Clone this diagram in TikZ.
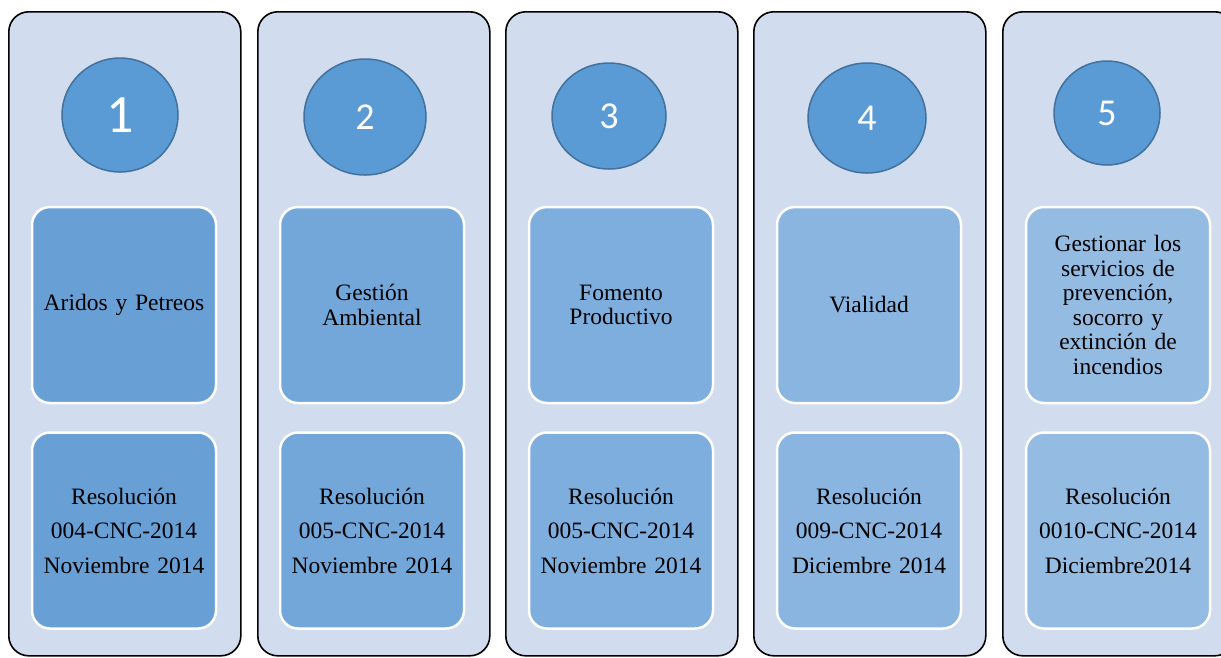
\documentclass[tikz,border=0pt]{standalone}
\usepackage{fontspec}
\setmainfont{Liberation Serif}
\newfontfamily\numfont{Carlito}
\usetikzlibrary{shapes.geometric}
\definecolor{outerfill}{RGB}{209,220,238}
\definecolor{circfill}{RGB}{91,155,213}
\definecolor{circline}{RGB}{65,113,156}
\definecolor{cardA}{RGB}{104,160,214}
\definecolor{cardB}{RGB}{115,167,218}
\definecolor{cardC}{RGB}{126,174,221}
\definecolor{cardD}{RGB}{137,181,224}
\definecolor{cardE}{RGB}{148,187,226}
\begin{document}
\begin{tikzpicture}[x=1pt,y=-1pt,
  colbox/.style={draw=black, line width=1.6pt, fill=outerfill, rounded corners=20pt,
    minimum width=232pt, minimum height=644pt, anchor=north west, inner sep=0pt},
  numcirc/.style={ellipse, draw=circline, line width=1.5pt, fill=circfill, text=white,
    inner sep=0pt, font=\numfont\fontsize{38}{38}\selectfont},
  card/.style={draw=white, line width=2.5pt, rounded corners=18pt,
    minimum width=184pt, minimum height=196pt, align=center, text width=180pt,
    inner sep=0pt, font=\fontsize{23.5}{24.5}\selectfont},
  rescard/.style={card, font=\fontsize{23.5}{34.5}\selectfont}
]
\useasboundingbox (0,0) rectangle (1221,657);
% columns
\node[colbox] (c1) at (8,11) {};
\node[colbox] (c2) at (257,11) {};
\node[colbox] (c3) at (505,11) {};
\node[colbox] (c4) at (753,11) {};
\node[colbox] (c5) at (1002,11) {};
% circles
\node[numcirc, minimum width=116pt, minimum height=114pt,
  font=\numfont\fontsize{54}{54}\selectfont] (n1) at (120,115) {1};
\node[numcirc, minimum width=122pt, minimum height=116pt] (n2) at (365,117) {2};
\node[numcirc, minimum width=114pt, minimum height=106pt] (n3) at (609,116) {3};
\node[numcirc, minimum width=118pt, minimum height=110pt] (n4) at (867,118) {4};
\node[numcirc, minimum width=106pt, minimum height=104pt] (n5) at (1107,113) {5};
% top cards
\node[card, fill=cardA] (t1) at (124,305) {Aridos y Petreos};
\node[card, fill=cardB] (t2) at (372,305) {Gestión\\Ambiental};
\node[card, fill=cardC] (t3) at (621,305) {Fomento\\Productivo};
\node[card, fill=cardD] (t4) at (869,305) {Vialidad};
\node[card, fill=cardE] (t5) at (1118,305) {Gestionar los\\servicios de\\prevención,\\socorro y\\extinción de\\incendios};
% bottom cards
\node[rescard, fill=cardA] (b1) at (124,530.5) {Resolución\\004-CNC-2014\\Noviembre 2014};
\node[rescard, fill=cardB] (b2) at (372,530.5) {Resolución\\005-CNC-2014\\Noviembre 2014};
\node[rescard, fill=cardC] (b3) at (621,530.5) {Resolución\\005-CNC-2014\\Noviembre 2014};
\node[rescard, fill=cardD] (b4) at (869,530.5) {Resolución\\009-CNC-2014\\Diciembre 2014};
\node[rescard, fill=cardE] (b5) at (1118,530.5) {Resolución\\0010-CNC-2014\\Diciembre2014};
\end{tikzpicture}
\end{document}
